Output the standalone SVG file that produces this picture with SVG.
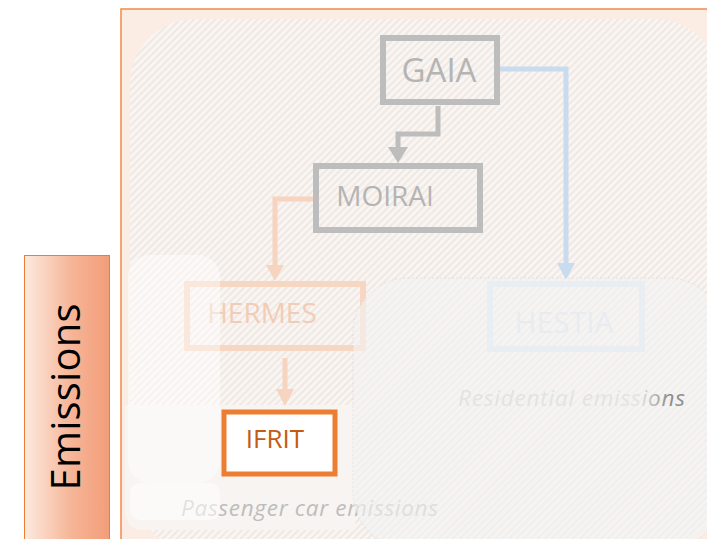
<svg xmlns="http://www.w3.org/2000/svg" width="707" height="539" viewBox="0 0 707 539">
<style>
.box{fill:none;stroke-width:6}
.lbl{font-family:"Open Sans","DejaVu Sans",sans-serif;text-anchor:middle}
.cap{font-family:"Open Sans","DejaVu Sans",sans-serif;font-style:italic;font-size:22.5px}
.con{fill:none;stroke-width:5}
</style>
<defs>
<linearGradient id="emg" x1="0" y1="0" x2="1" y2="0">
<stop offset="0" stop-color="#FCEAE0"/>
<stop offset="0.55" stop-color="#F6B597"/>
<stop offset="1" stop-color="#F39D79"/>
</linearGradient>
<pattern id="hatch" patternUnits="userSpaceOnUse" width="5" height="5" patternTransform="rotate(-45)">
<rect width="5" height="5" fill="#F9F5F2"/>
<rect width="5" height="2" fill="#F0E8E3"/>
</pattern>
<linearGradient id="resg" gradientUnits="userSpaceOnUse" x1="640" y1="0" x2="668" y2="0">
<stop offset="0" stop-color="#E2E2E2"/>
<stop offset="1" stop-color="#8E8E8E"/>
</linearGradient>
</defs>

<g id="emissions">
<rect x="24.5" y="255.5" width="85" height="300" fill="url(#emg)" stroke="#ED7D31" stroke-width="1"/>
<text x="0" y="0" transform="translate(80,397) rotate(-90)" font-family="'Open Sans','DejaVu Sans',sans-serif" font-size="40" text-anchor="middle" textLength="187" fill="#000">Emissions</text>
</g>

<g id="frame">
<rect x="121" y="9" width="600" height="545" fill="#FCEDE4" stroke="#F08A4B" stroke-width="1.5"/>
<rect x="130" y="19" width="590" height="530" rx="65" fill="url(#hatch)"/>
<path d="M125,405 H355 V530 H145 Q125,530 125,510 Z" fill="#F8F4F1"/>
</g>

<g id="connectors">
<path class="con" d="M438,106 V134 H398 V149" stroke="#BDBDBD" stroke-width="6"/>
<polygon points="388,147 408,147 398,163" fill="#BDBDBD"/>
<path class="con" d="M500,69 H566 V265" stroke="#C9DCEF"/>
<polygon points="557,263 575,263 566,280" fill="#C9DCEF"/>
<path class="con" d="M315,199 H275 V266" stroke="#F6D4C0"/>
<polygon points="266,265 284,265 275,281" fill="#F6D4C0"/>
<path class="con" d="M285,358 V391" stroke="#F6D4C0"/>
<polygon points="276,389 294,389 285,406" fill="#F6D4C0"/>
</g>

<g id="gaia">
<rect class="box" x="383" y="38" width="114" height="64" stroke="#BDBDBD"/>
<text class="lbl" x="439" y="82" font-size="33" fill="#B4B4B4">GAIA</text>
</g>
<g id="moirai">
<rect class="box" x="316" y="166" width="164" height="64" stroke="#BDBDBD"/>
<text class="lbl" x="385" y="206" font-size="28" fill="#B4B4B4">MOIRAI</text>
</g>
<g id="hermes">
<rect class="box" x="187" y="284" width="176" height="64" stroke="#F7D6C2"/>
<text class="lbl" x="262" y="323" font-size="28" fill="#F1CDB7">HERMES</text>
</g>
<g id="hestia">
<rect class="box" x="490" y="284" width="152" height="65" stroke="#DCE6F2"/>
<text class="lbl" x="564" y="333" font-size="30" fill="#D8E1ED">HESTIA</text>
</g>

<g id="passenger-label">
<text class="cap" x="181" y="516" textLength="257" fill="#BDBDBD">Passenger car emissions</text>
</g>

<g id="overlays">
<rect x="128" y="255" width="92" height="228" rx="22" fill="#FFFFFF" opacity="0.45"/>
<rect x="130" y="483" width="90" height="37" rx="10" fill="#FFFFFF" opacity="0.55"/>
<rect x="353" y="278" width="370" height="270" rx="55" fill="#F3F4F4" opacity="0.6" stroke="#C8C8C8" stroke-width="0.6" stroke-dasharray="2 2"/>
</g>

<g id="residential-label">
<text class="cap" x="458" y="406" textLength="227" fill="url(#resg)">Residential emissions</text>
</g>

<g id="ifrit">
<rect x="224" y="412" width="111" height="62" fill="#FFFFFF" stroke="#ED7D31" stroke-width="5"/>
<text class="lbl" x="275" y="448" font-size="26" fill="#C55A11">IFRIT</text>
</g>
</svg>
